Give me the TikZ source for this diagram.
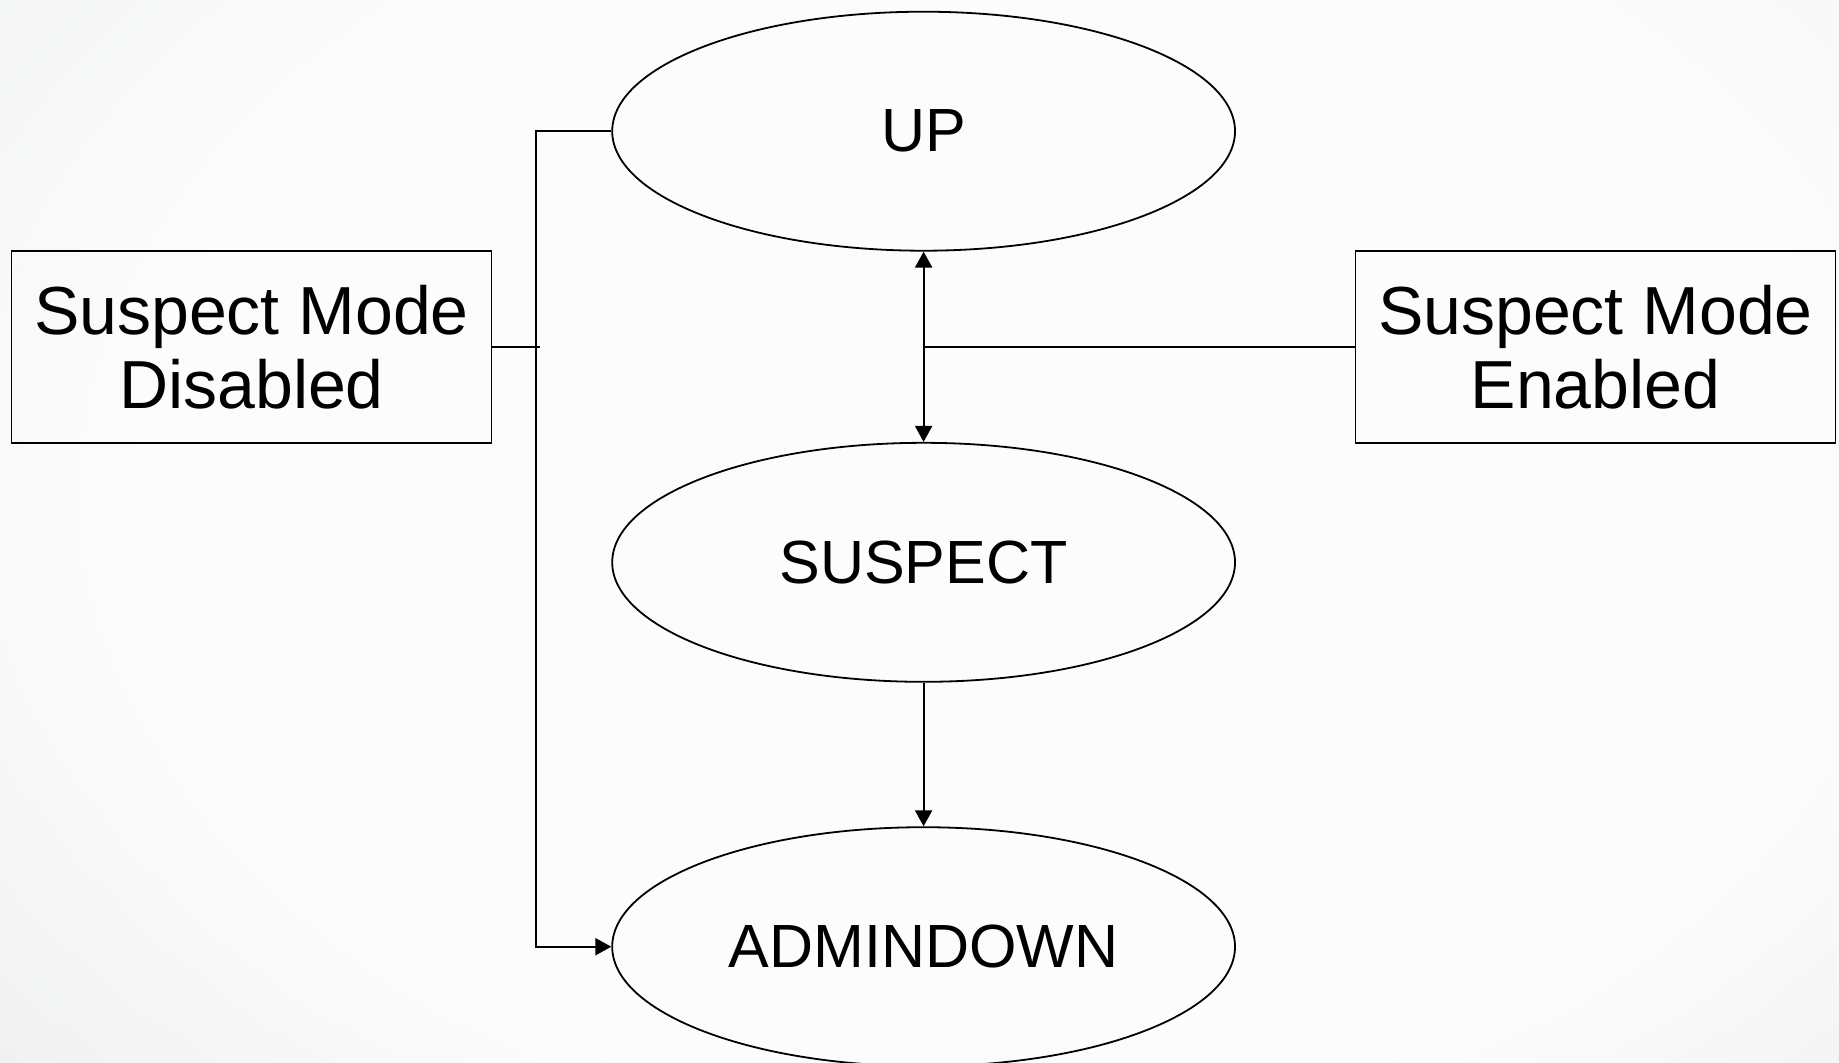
\documentclass[tikz,border=0pt]{standalone}
\usepackage{fontspec}
\setmainfont{Liberation Sans}
\usetikzlibrary{shapes.geometric,arrows.meta,fadings}

\definecolor{bgtop}{HTML}{EBEDED}
\definecolor{bgmid}{HTML}{E9EBEB}
\definecolor{bglow}{HTML}{E1E4E3}
\definecolor{bgbot}{HTML}{D5D9D8}
\definecolor{glowcol}{HTML}{FCFCFC}

% vertical base tone of the backdrop (0bp = bottom, 100bp = top)
\pgfdeclareverticalshading{backdrop}{100bp}{color(0bp)=(bgbot); color(25bp)=(bglow);
  color(50bp)=(bgmid); color(100bp)=(bgtop)}
% soft bright glow: opaque plateau in the middle, fading outwards
\pgfdeclareradialshading{glowmask}{\pgfpointorigin}{color(0bp)=(white); color(12bp)=(white);
  color(25bp)=(black); color(50bp)=(black)}
\pgfdeclarefading{glow}{\pgfuseshading{glowmask}}

\tikzset{
  state/.style={draw=black, line width=0.9pt, ellipse, inner sep=0pt,
    minimum width=311.4pt, minimum height=119.5pt,
    font=\fontsize{30.5pt}{36pt}\selectfont},
  modebox/.style={draw=black, line width=0.9pt, rectangle, inner sep=0pt,
    minimum width=240pt, minimum height=96pt, align=center,
    font=\fontsize{34pt}{37pt}\selectfont},
  link/.style={draw=black, line width=1.1pt},
  tip/.tip={Triangle[length=8pt,width=8.5pt]},
  arr/.style={link, -tip},
  dblarr/.style={link, tip-tip}
}

\begin{document}
\begin{tikzpicture}[x=0.5pt,y=-0.5pt]
  \useasboundingbox (0,0) rectangle (1839,1062);
  % backdrop
  \begin{scope}
    \clip (0,0) rectangle (1839,1062);
    \shade[shading=backdrop] (0,0) rectangle (1839,1062);
    \fill[glowcol, path fading=glow, fit fading=true] (-800,-800) rectangle (2800,1800);
  \end{scope}

  % states
  \node[state] (up)  at (923.6,131.2) {UP};
  \node[state] (sus) at (923.6,562.3) {SUSPECT};
  \node[state] (adm) at (923.6,946.7) {ADMINDOWN};

  % mode boxes
  \node[modebox] (dis) at (251.5,347) {Suspect Mode\\Disabled};
  \node[modebox] (en)  at (1595.5,347) {Suspect Mode\\Enabled};

  % routing points
  \coordinate (rail) at (535.7,0);
  \coordinate (stub) at (539.5,347);
  \coordinate (mid)  at (923.6,347);

  % suspect mode enabled: UP <-> SUSPECT -> ADMINDOWN
  \draw[dblarr] (up.south) -- (sus.north);
  \draw[link] (en.west) -- (mid);
  \draw[arr] (sus.south) -- (adm.north);

  % suspect mode disabled: UP -> ADMINDOWN directly
  \draw[arr] (up.west) -| (rail |- adm.west) -- (adm.west);
  \draw[link] (dis.east) -- (stub);
\end{tikzpicture}
\end{document}
